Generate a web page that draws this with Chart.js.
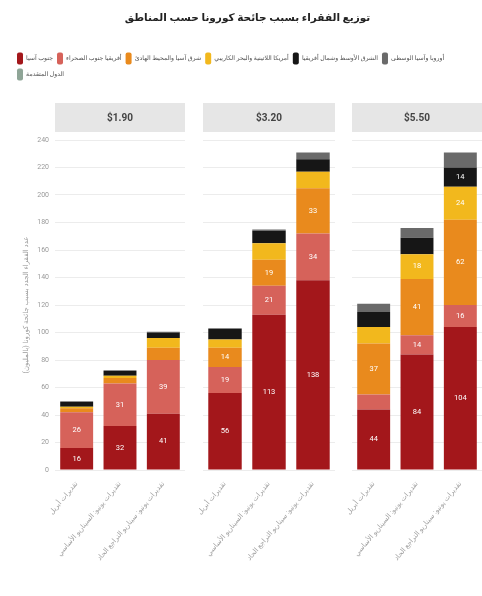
<!DOCTYPE html>
<html lang="ar">
<head>
<meta charset="utf-8">
<script src="https://cdn.jsdelivr.net/npm/chart.js@4.4.1/dist/chart.umd.min.js"></script>
<style>
  html, body { margin: 0; padding: 0; background: #fff; }
  #wrap { position: relative; width: 482px; height: 596px; overflow: hidden; }
  canvas { position: absolute; }
</style>
</head>
<body>
<div id="wrap">
  <canvas id="head" width="482" height="98" style="left:0px;top:0px"></canvas>
  <canvas id="p1" width="190" height="498" style="left:0px;top:98px"></canvas>
  <canvas id="p2" width="148" height="498" style="left:190px;top:98px"></canvas>
  <canvas id="p3" width="144" height="498" style="left:338px;top:98px"></canvas>
</div>
<script>
// خطوط الفقر (لوحة لكل خط)
const povertyLines = ['$1.90', '$3.20', '$5.50'];
// السيناريوهات داخل كل لوحة
const scenarios = [
    'تقديرات أبريل',
    'تقديرات يونيو: السيناريو الأساسي',
    'تقديرات يونيو: سيناريو التراجع الحاد'
];
const regions = [
    'جنوب آسيا',
    'أفريقيا جنوب الصحراء',
    'شرق آسيا والمحيط الهادئ',
    'أمريكا اللاتينية والبحر الكاريبي',
    'الشرق الأوسط وشمال أفريقيا',
    'أوروبا وآسيا الوسطى',
    'الدول المتقدمة'
];
const regionColors = ['#a3171b', '#d6625a', '#e98a1d', '#f2b81d', '#161616', '#6a6a6a', '#8fa597'];

// ملايين الفقراء الجدد: 3 قيم لكل خط فقر ($1.90, $3.20, $5.50)
const southAsia        = [16, 32, 41,   56, 113, 138,   44, 84, 104];
const subSaharanAfrica = [26, 31, 39,   19, 21, 34,     11, 14, 16];
const eastAsiaPacific  = [3, 4, 9,      14, 19, 33,     37, 41, 62];
const latinAmerica     = [1, 1.5, 7,    6, 12, 12,      12, 18, 24];
const middleEast       = [3.5, 3.5, 4,  8, 9, 9,        11, 12, 14];
const europeAsia       = [0.5, 0.5, 0.5, 0, 1, 5,       6, 7, 11];
const advanced         = [0, 0, 0,      0, 0, 0,        0, 0, 0];
const regionSeries = [southAsia, subSaharanAfrica, eastAsiaPacific, latinAmerica, middleEast, europeAsia, advanced];

const yTicksMax = 240;
const yTicksStep = 20;
const chartTitle = 'توزيع الفقراء بسبب جائحة كورونا حسب المناطق';
const yTitle = 'عدد الفقراء الجدد بسبب جائحة كورونا (بالمليون)';

const FONT = "Roboto, 'DejaVu Sans', sans-serif";

// gray header box with the poverty line above each panel
const headerPlugin = {
    id: 'header',
    beforeDraw(chart, args, opts) {
        const ctx = chart.ctx;
        const a = chart.chartArea;
        ctx.save();
        ctx.fillStyle = '#e6e6e6';
        ctx.fillRect(a.left, 5, a.right - a.left, 29);
        ctx.fillStyle = '#444';
        ctx.font = 'bold 10px ' + FONT;
        ctx.textAlign = 'center';
        ctx.textBaseline = 'middle';
        ctx.fillText(opts.text, (a.left + a.right) / 2, 20);
        ctx.restore();
    }
};

// white numbers inside the bigger segments
const valuePlugin = {
    id: 'values',
    afterDatasetsDraw(chart) {
        const ctx = chart.ctx;
        ctx.save();
        ctx.fillStyle = '#fff';
        ctx.font = '7.5px ' + FONT;
        ctx.textAlign = 'center';
        ctx.textBaseline = 'middle';
        chart.data.datasets.forEach((ds, i) => {
            chart.getDatasetMeta(i).data.forEach((bar, j) => {
                const v = ds.data[j];
                if (v >= 13) ctx.fillText(String(v), bar.x, (bar.y + bar.base) / 2);
            });
        });
        ctx.restore();
    }
};

function makeHead() {
    new Chart(document.getElementById('head'), {
        type: 'bar',
        data: {
            labels: [],
            datasets: regions.map((r, k) => ({ label: r, data: [], backgroundColor: regionColors[k] }))
        },
        options: {
            responsive: false,
            animation: false,
            layout: { padding: { left: 13, right: 0 } },
            scales: { x: { display: false }, y: { display: false } },
            plugins: {
                tooltip: { enabled: false },
                title: {
                    display: true,
                    text: chartTitle,
                    color: '#222',
                    font: { size: 10.5, weight: 'bold', family: FONT },
                    padding: { top: 12, bottom: 24 }
                },
                legend: {
                    display: true,
                    align: 'start',
                    labels: {
                        boxWidth: 6,
                        boxHeight: 12,
                        useBorderRadius: true,
                        borderRadius: 2,
                        padding: 4,
                        color: '#505050',
                        font: { size: 6.2, family: FONT }
                    }
                }
            }
        }
    });
}

function makePanel(id, idx, yWidth, padRight) {
    const showY = idx === 0;
    new Chart(document.getElementById(id), {
        type: 'bar',
        data: {
            labels: scenarios,
            datasets: regions.map((r, k) => ({
                label: r,
                data: regionSeries[k].slice(idx * 3, idx * 3 + 3),
                backgroundColor: regionColors[k],
                categoryPercentage: 1,
                barPercentage: 0.76
            }))
        },
        options: {
            responsive: false,
            animation: false,
            layout: { padding: { top: 42, right: padRight, left: 0, bottom: 0 } },
            plugins: {
                legend: { display: false },
                tooltip: { enabled: false },
                header: { text: povertyLines[idx] }
            },
            scales: {
                x: {
                    stacked: true,
                    grid: { display: false },
                    border: { display: false },
                    ticks: {
                        autoSkip: false,
                        minRotation: 50,
                        maxRotation: 50,
                        padding: 2,
                        color: '#a0a0a0',
                        font: { size: 7, family: FONT }
                    },
                    afterFit: s => { s.height = 126; }
                },
                y: {
                    stacked: true,
                    min: 0,
                    max: yTicksMax,
                    border: { display: false },
                    grid: { color: '#ececec', drawTicks: false },
                    ticks: {
                        display: showY,
                        stepSize: yTicksStep,
                        padding: 6,
                        color: '#9a9a9a',
                        font: { size: 7, family: FONT }
                    },
                    title: {
                        display: showY,
                        text: yTitle,
                        color: '#9a9a9a',
                        font: { size: 7, family: FONT },
                        padding: { top: 22, bottom: 0 }
                    },
                    afterFit: s => { s.width = yWidth; }
                }
            }
        },
        plugins: [headerPlugin, valuePlugin]
    });
}

makeHead();
makePanel('p1', 0, 55, 5);
makePanel('p2', 1, 13, 3);
makePanel('p3', 2, 14, 0);
</script>
</body>
</html>
